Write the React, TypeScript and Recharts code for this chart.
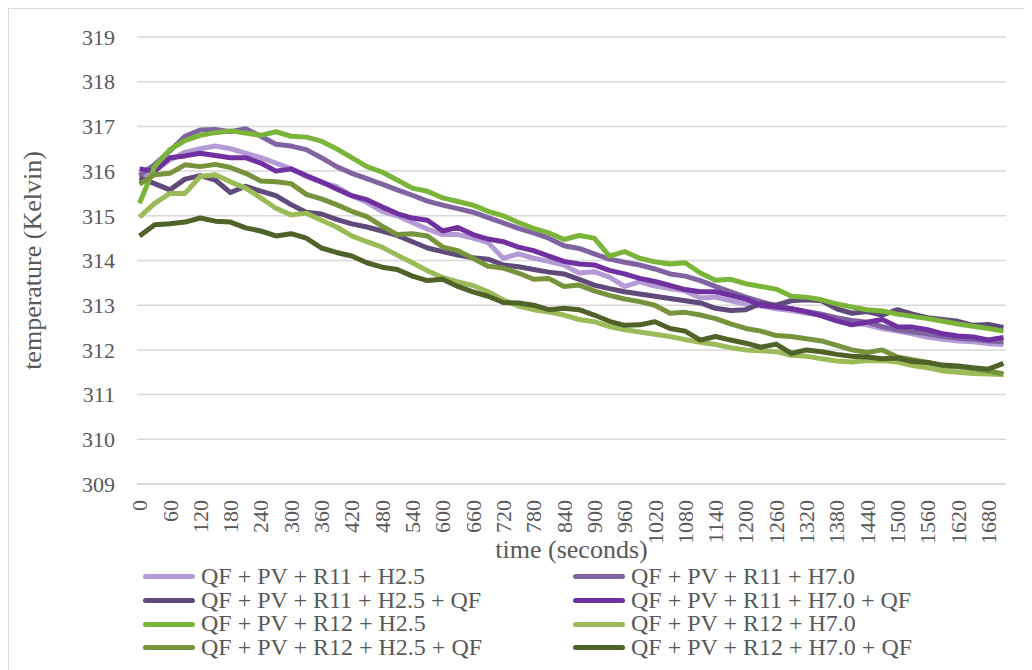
import React from 'react';
import { LineChart, Line, XAxis, YAxis, CartesianGrid, Label } from 'recharts';

// time in seconds, sampled every 30 s
const times = [
  0, 30, 60, 90, 120, 150, 180, 210, 240, 270, 300, 330, 360, 390, 420, 450, 480, 510, 540, 570,
  600, 630, 660, 690, 720, 750, 780, 810, 840, 870, 900, 930, 960, 990, 1020, 1050, 1080, 1110, 1140, 1170,
  1200, 1230, 1260, 1290, 1320, 1350, 1380, 1410, 1440, 1470, 1500, 1530, 1560, 1590, 1620, 1650, 1680, 1710,
];

const timeTicks = [
  0, 60, 120, 180, 240, 300, 360, 420, 480, 540, 600, 660, 720, 780, 840, 900, 960, 1020, 1080, 1140,
  1200, 1260, 1320, 1380, 1440, 1500, 1560, 1620, 1680,
];
const tempTicks = [309, 310, 311, 312, 313, 314, 315, 316, 317, 318, 319];

// temperatures (Kelvin)
const r11H25 = [
  315.85, 316.0, 316.25, 316.42, 316.5, 316.56, 316.5, 316.4, 316.3, 316.18,
  316.05, 315.88, 315.75, 315.65, 315.45, 315.3, 315.1, 315.0, 314.85, 314.7,
  314.58, 314.58, 314.5, 314.4, 314.05, 314.15, 314.05, 313.98, 313.9, 313.72,
  313.75, 313.63, 313.42, 313.52, 313.43, 313.37, 313.32, 313.16, 313.18, 313.1,
  313.02, 312.98, 312.92, 312.88, 312.82, 312.78, 312.68, 312.6, 312.56, 312.48,
  312.42, 312.36, 312.28, 312.24, 312.2, 312.18, 312.14, 312.12,
];
const r11H70 = [
  315.9, 316.15, 316.45, 316.78, 316.92, 316.93, 316.88, 316.95, 316.78, 316.6,
  316.56, 316.48, 316.3, 316.1, 315.95, 315.83, 315.71, 315.58, 315.46, 315.33,
  315.24, 315.16, 315.08, 314.96, 314.84, 314.72, 314.62, 314.5, 314.33, 314.27,
  314.15, 314.03, 313.96, 313.9, 313.81, 313.7, 313.65, 313.55, 313.42, 313.3,
  313.18, 313.08, 312.98, 312.92, 312.86, 312.8, 312.72, 312.66, 312.62, 312.52,
  312.45, 312.4, 312.36, 312.3, 312.26, 312.24, 312.2, 312.18,
];
const r11H25QF = [
  315.85, 315.72, 315.58, 315.82, 315.9, 315.8, 315.52, 315.66, 315.55, 315.45,
  315.25, 315.08, 315.04, 314.92, 314.82, 314.75, 314.66, 314.56, 314.42, 314.28,
  314.2, 314.12, 314.06, 314.03, 313.9, 313.86, 313.8, 313.74, 313.7, 313.58,
  313.45, 313.37, 313.3, 313.25, 313.2, 313.15, 313.1, 313.05, 312.93, 312.88,
  312.9, 313.04, 313.0, 313.1, 313.12, 313.1, 312.92, 312.82, 312.86, 312.78,
  312.9, 312.8, 312.72, 312.68, 312.64, 312.55, 312.57, 312.5,
];
const r11H70QF = [
  316.05, 316.0, 316.3, 316.34, 316.4, 316.35, 316.3, 316.3, 316.18, 316.0,
  316.05, 315.9, 315.76, 315.6, 315.45, 315.36, 315.2, 315.05, 314.95, 314.9,
  314.66, 314.74, 314.58, 314.48, 314.42, 314.3, 314.22, 314.1, 313.98, 313.92,
  313.9, 313.78, 313.7, 313.6, 313.53, 313.44, 313.35, 313.3, 313.3, 313.22,
  313.14, 313.0, 312.96, 312.92, 312.85, 312.76, 312.65, 312.56, 312.62, 312.68,
  312.52, 312.51, 312.45, 312.36, 312.31, 312.29, 312.22, 312.28,
];
const r12H25 = [
  315.28, 316.1, 316.48, 316.68, 316.8, 316.86, 316.9, 316.85, 316.8, 316.88,
  316.78, 316.76, 316.67, 316.5, 316.3, 316.1, 315.98, 315.8, 315.62, 315.55,
  315.4, 315.32, 315.24, 315.1, 315.0, 314.85, 314.72, 314.62, 314.47, 314.56,
  314.5, 314.1, 314.2, 314.05, 313.97, 313.92, 313.95, 313.72, 313.56, 313.58,
  313.48, 313.42, 313.36, 313.2, 313.18, 313.12, 313.03, 312.96, 312.9, 312.87,
  312.8, 312.75, 312.7, 312.64, 312.58, 312.53, 312.48, 312.42,
];
const r12H70 = [
  314.97, 315.28, 315.5, 315.5, 315.88, 315.92, 315.76, 315.62, 315.4, 315.17,
  315.02, 315.06, 314.9, 314.75, 314.55, 314.42, 314.3, 314.12, 313.95, 313.77,
  313.62, 313.52, 313.44, 313.3, 313.12, 312.98, 312.9, 312.85, 312.78, 312.68,
  312.63, 312.52, 312.45, 312.4, 312.35, 312.3, 312.23, 312.17, 312.12, 312.05,
  312.0, 311.98, 311.96, 311.88, 311.86, 311.8, 311.75, 311.73, 311.76, 311.76,
  311.73, 311.65, 311.6, 311.53, 311.5, 311.47, 311.46, 311.45,
];
const r12H25QF = [
  315.71, 315.92, 315.95, 316.14, 316.1, 316.15, 316.08, 315.95, 315.78, 315.76,
  315.72, 315.48, 315.38, 315.25, 315.1, 314.98, 314.77, 314.58, 314.6, 314.55,
  314.3, 314.22, 314.05, 313.87, 313.83, 313.72, 313.58, 313.6, 313.42, 313.45,
  313.32, 313.22, 313.14, 313.08, 313.0, 312.82, 312.84, 312.78, 312.7, 312.58,
  312.48, 312.42, 312.32, 312.3, 312.25, 312.2, 312.1, 312.0, 311.94, 312.0,
  311.84, 311.78, 311.72, 311.64, 311.62, 311.58, 311.53, 311.46,
];
const r12H70QF = [
  314.55, 314.8, 314.82, 314.86, 314.95, 314.88, 314.86, 314.73, 314.66, 314.55,
  314.6, 314.5, 314.28, 314.18, 314.1, 313.95, 313.85, 313.8, 313.65, 313.55,
  313.58, 313.42, 313.3, 313.2, 313.06, 313.05, 313.0, 312.9, 312.93, 312.9,
  312.78, 312.64, 312.55, 312.56, 312.63, 312.48, 312.42, 312.22, 312.3, 312.22,
  312.15, 312.06, 312.13, 311.92, 312.0, 311.96, 311.9, 311.86, 311.84, 311.8,
  311.82, 311.74, 311.72, 311.66, 311.64, 311.6, 311.57, 311.7,
];

const series = [
  { key: 'a', name: 'QF + PV + R11 + H2.5', color: '#b49bd6', values: r11H25 },
  { key: 'b', name: 'QF + PV + R11 + H7.0', color: '#8064a2', values: r11H70 },
  { key: 'c', name: 'QF + PV + R11 + H2.5 + QF', color: '#604a7b', values: r11H25QF },
  { key: 'd', name: 'QF + PV + R11 + H7.0 + QF', color: '#7030a0', values: r11H70QF },
  { key: 'e', name: 'QF + PV + R12 + H2.5', color: '#7ab53a', values: r12H25 },
  { key: 'f', name: 'QF + PV + R12 + H7.0', color: '#9bbb59', values: r12H70 },
  { key: 'g', name: 'QF + PV + R12 + H2.5 + QF', color: '#77933c', values: r12H25QF },
  { key: 'h', name: 'QF + PV + R12 + H7.0 + QF', color: '#4f6228', values: r12H70QF },
];

const data = times.map((t, i) => {
  const row: Record<string, number> = { t };
  series.forEach(s => { row[s.key] = s.values[i]; });
  return row;
});

const FONT = '"Liberation Serif", "DejaVu Serif", "Times New Roman", Times, serif';
const TEXT = '#595959';

const TimeTick = (props: any) => {
  const { x, y, payload } = props;
  return (
    <text
      x={x}
      y={y}
      dy="0.35em"
      transform={`rotate(-90, ${x}, ${y})`}
      textAnchor="end"
      fill={TEXT}
      style={{ fontSize: 22, fontFamily: FONT }}
    >
      {payload.value}
    </text>
  );
};

const XTitle = (props: any) => {
  const { viewBox } = props;
  const cx = viewBox.x + viewBox.width / 2;
  return (
    <text x={cx} y={viewBox.y + 65} dy="0.35em" textAnchor="middle" fill={TEXT} style={{ fontSize: 26, fontFamily: FONT }}>
      time (seconds)
    </text>
  );
};

const YTitle = (props: any) => {
  const { viewBox } = props;
  const cx = viewBox.x + 24;
  const cy = viewBox.y + viewBox.height / 2;
  return (
    <text
      x={cx}
      y={cy}
      dy="0.35em"
      transform={`rotate(-90, ${cx}, ${cy})`}
      textAnchor="middle"
      fill={TEXT}
      style={{ fontSize: 26, fontFamily: FONT }}
    >
      temperature (Kelvin)
    </text>
  );
};

const TempTick = (props: any) => {
  const { x, y, payload } = props;
  return (
    <text x={x} y={y} dy="0.35em" textAnchor="end" fill={TEXT} style={{ fontSize: 22, fontFamily: FONT }}>
      {payload.value}
    </text>
  );
};

export default function App() {
  return (
    <div style={{ position: 'relative', width: 1018, height: 664, fontFamily: FONT }}>
      <div style={{ position: 'absolute', inset: 0, border: '1px solid #d9d9d9', pointerEvents: 'none' }} />
      <LineChart width={1018} height={662} data={data} margin={{ top: 29, right: 20, left: 0, bottom: 0 }}>
        <CartesianGrid horizontal vertical={false} stroke="#d9d9d9" strokeWidth={1.5} />
        <XAxis
          dataKey="t"
          type="number"
          domain={[-5, 1715]}
          ticks={timeTicks}
          interval={0}
          height={186}
          tickSize={0}
          tickMargin={16}
          axisLine={{ stroke: '#d9d9d9', strokeWidth: 1.5 }}
          tickLine={false}
          tick={<TimeTick />}
        >
          <Label content={<XTitle />} />
        </XAxis>
        <YAxis
          type="number"
          domain={[309, 319]}
          ticks={tempTicks}
          interval={0}
          width={129}
          tickSize={0}
          tickMargin={22}
          axisLine={false}
          tickLine={false}
          tick={<TempTick />}
        >
          <Label content={<YTitle />} />
        </YAxis>
        {series.map(s => (
          <Line
            key={s.key}
            type="linear"
            dataKey={s.key}
            name={s.name}
            stroke={s.color}
            strokeWidth={5}
            strokeLinejoin="round"
            dot={false}
            activeDot={false}
            isAnimationActive={false}
          />
        ))}
      </LineChart>
      <div
        style={{
          position: 'absolute',
          left: 135,
          top: 557,
          display: 'grid',
          gridTemplateColumns: '430px 430px',
        }}
      >
        {series.map(s => (
          <div key={s.key} style={{ display: 'flex', alignItems: 'center', height: 23.7 }}>
            <span style={{ width: 52, height: 5, borderRadius: 3, background: s.color, marginRight: 6 }} />
            <span style={{ fontSize: 24, lineHeight: '23.7px', color: TEXT, whiteSpace: 'nowrap' }}>{s.name}</span>
          </div>
        ))}
      </div>
    </div>
  );
}
